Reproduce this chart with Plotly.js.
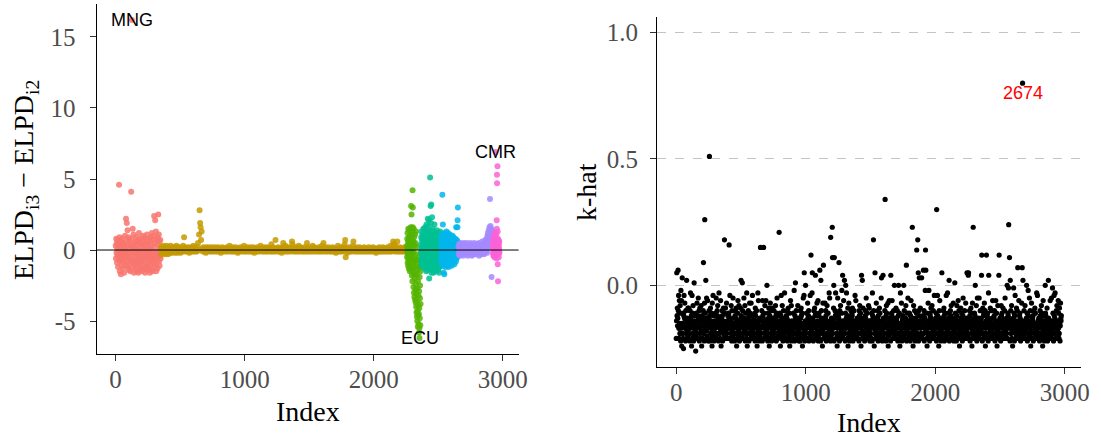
<!DOCTYPE html>
<html><head><meta charset="utf-8">
<script src="https://cdn.plot.ly/plotly-3.0.1.min.js"></script>
<style>html,body{margin:0;padding:0;background:#fff;}#chart{width:1101px;height:438px;}</style>
</head><body><div id="chart"></div>
<script>
// ---------- Left panel: ELPD_i3 - ELPD_i2 (values in tenths), by group ----------
const groupStart = [1, 351, 2258, 2366, 2521, 2657, 2923];
const groupStep  = [2, 4, 1, 1, 1, 2, 1];
const groupColors = ['#F8766D','#C49A00','#53B400','#00C094','#00B6EB','#A58AFF','#FB61D7'];

const redTenths = [
3,-6,8,-2,5,-9,1,-4,7,-12,-1,4,-7,46,-3,9,-15,2,-8,6,-17,-5,3,-11,0,
-6,8,-3,-13,5,-1,-9,4,-16,2,-7,10,-4,0,-11,22,6,-2,19,-8,3,14,-12,-5,9,
-3,-14,7,1,-10,-6,4,-15,-1,8,41,-8,3,162,-4,-12,15,0,-7,11,-2,-16,5,-9,2,
-11,6,-4,-13,9,1,-7,-15,3,-2,-9,7,-5,-16,0,12,-3,-10,5,-14,-6,8,-1,-12,4,
-8,2,-15,6,-4,10,-11,-1,-7,3,-13,9,-5,1,-16,-3,7,-9,-12,5,-2,11,-6,-14,0,
4,-10,-3,8,-13,-7,1,-16,6,-2,-11,9,-5,3,-14,12,-8,-1,-15,7,-4,10,-9,2,24,
-6,-12,5,21,-3,-10,13,-15,8,-1,-7,4,-13,9,-5,25,-2,11,-8,6,-11,1,-4,7,-6];

const goldTenths = [
2,-3,1,-2,3,0,-1,2,-3,1,-2,3,0,-1,-3,2,1,-2,0,3,-1,-2,1,2,-1,
0,2,-2,1,-1,3,0,-2,1,2,-1,0,2,-2,1,0,-1,1,3,-1,9,0,2,-1,1,
0,-1,1,2,0,-2,1,0,-1,2,1,-1,0,3,-1,0,2,-1,1,0,-1,2,5,0,11,
28,19,16,7,13,1,-1,2,0,-1,1,0,-2,2,0,-1,1,0,2,-1,0,1,-1,0,2,
-1,0,1,0,-1,2,0,-1,1,0,-1,2,0,-1,1,0,-2,1,0,2,-1,1,0,-1,0,
1,0,-1,2,0,-1,1,0,3,-1,0,1,-1,0,2,-1,0,1,-1,0,2,-1,0,1,-2,
0,1,-1,0,2,1,-1,0,1,0,-1,3,0,-1,1,0,-1,2,0,-1,1,0,-1,2,0,
-1,1,0,-1,2,0,-2,1,0,1,-1,0,2,-1,0,1,-1,0,3,1,0,-1,1,0,-1,
2,0,-1,1,0,-1,2,0,-1,1,0,1,-1,0,4,-1,0,2,-1,0,1,-1,7,0,1,
-1,0,2,-1,1,0,-1,1,0,-2,2,0,5,-1,1,0,3,-1,0,1,-1,2,0,-1,1,
0,1,-1,2,6,4,0,-1,1,0,-1,2,0,-1,1,0,-1,3,0,-1,2,0,1,-1,0,
1,-1,0,2,-1,0,1,-1,5,0,-1,2,0,-1,1,0,-1,1,0,3,-1,0,2,-1,0,
1,0,-1,1,0,-1,2,0,-1,1,0,-1,3,0,-1,5,1,0,-1,2,0,-1,1,0,-1,
2,0,1,-1,0,-1,1,0,2,-1,0,-1,1,0,-2,1,0,-1,3,0,-1,1,0,-1,2,
0,-1,1,0,2,-1,4,7,-5,1,0,-2,1,0,-1,2,0,-1,1,0,-1,1,3,6,0,
-1,0,1,-1,2,0,-1,0,1,-1,2,0,-1,1,0,-1,1,0,-1,2,0,-1,1,0,-1,
1,0,-1,2,0,-1,1,0,-1,1,0,2,-1,0,-1,1,0,-2,1,0,-1,1,0,2,-1,
0,-1,1,0,-1,2,0,-1,1,0,-1,0,1,-1,2,0,-1,0,1,-1,3,0,-1,1,0,
6,4,0,-1,3,1,-1,0,6,-1,0,1,-1,2,0,-1,1,0,-1,1,0,-1,2,0,-1,
1,0];

const greenTenths = [
3,-5,8,-2,12,-9,1,-4,6,-11,15,-1,
-7,4,-13,9,0,-6,14,-3,-10,7,-15,2,
10,-8,5,-12,-2,16,-5,11,31,-1,-14,25,
-4,8,-18,13,-7,1,-22,42,16,30,-9,4,
-13,6,-26,-2,15,-17,-30,9,-6,-33,-12,3,
-20,-8,11,-35,-16,5,-28,-37,-3,-24,13,-40,
-10,-31,-44,2,-18,-47,-36,-7,-50,-27,-43,-14,
-54,-22,-39,-46,-5,-32,-52,-12,-45,-58,-29,-41,
-55,-62,-19,-48,-34,-25,-8,-53,-15,-38,-2,-11];

const tealTenths = [
4,-7,9,-2,13,-11,1,-5,7,-9,2,-3,
11,-6,0,-12,5,8,-4,15,-8,3,-1,10,
-10,6,-3,14,-7,2,-13,9,-1,16,-5,4,
-9,12,0,-6,7,-15,3,18,-2,-11,8,1,
-4,13,-8,6,-14,22,-1,9,-7,3,17,-12,
5,-3,21,-9,-20,10,-6,2,14,-10,7,51,
-2,12,-13,31,4,-8,19,-5,32,1,-16,8,
-11,6,23,-4,11,-7,0,15,-14,3,-9,10,
-1,-16,5,13,-6,2,-12,8,-3,18,-8,4,
-13,9,-2,6,-10,1,12,-5,-15,7,-1,11,
-7,3,-11,14,0,-4,8,-12,5,-9,2,10,
-6,1,-14,7,-2,12,-8,4,-10,-16,6,-3,
9,-12,2,-5,13,-9,0,7,-4,-11,3];

const blueTenths = [
3,-6,8,-2,10,-8,1,-4,6,-10,2,39,
-3,7,-7,18,0,-5,9,-11,4,-16,-1,12,
-8,5,-17,2,-4,11,-9,6,-1,8,-12,3,
-6,10,-3,1,-10,7,-2,13,-7,4,0,-9,
6,-4,9,-11,2,-6,12,-1,-8,5,-3,8,
-12,1,7,-5,10,-2,-9,4,-7,11,0,-4,
6,-10,3,-1,9,-6,2,-8,5,-3,7,-11,
1,8,-5,3,-7,10,-2,-9,4,-1,6,-6,
2,-4,9,-8,0,5,-3,7,-10,1,-5,4,
-7,6,-2,8,-6,3,-1,5,-8,2,16,-4,
4,-6,1,7,-3,-5,2,6,16,21,-2,30,-4,3,-1,5];

const purpleTenths = [
2,-3,4,-1,1,-4,3,0,-2,5,-1,2,
-3,1,4,-2,0,3,-4,2,-1,5,1,-2,
3,-1,0,4,-3,2,-1,1,5,-2,0,3,
-4,2,1,-1,4,-2,3,0,-3,2,5,-1,
1,-2,3,0,-4,4,-1,2,-3,1,3,-2,
0,5,-1,2,-3,3,1,-2,4,0,-1,2,
-3,3,1,-1,4,-2,0,5,-4,2,1,-1,
3,-2,2,0,-3,4,1,-1,6,-2,3,0,
-1,4,2,-3,5,1,-2,3,7,0,4,-1,
6,2,8,-2,10,4,12,1,9,14,3,11,
16,7,36,13,17,5,10,15,-19,8,14,4,
12];

const pinkTenths = [
3,-2,6,1,-4,8,0,-3,5,2,-1,10,4,
-5,7,1,-2,12,3,-4,0,9,69,2,-3,6,
-1,11,4,-6,21,15,53,47,-2,5,59,13,-10,8,-22,3,
0,-3,7,2,-5,4,1,-1,6,-2];

const elpdGroups = [redTenths, goldTenths, greenTenths, tealTenths, blueTenths, purpleTenths, pinkTenths];
const labelText  = ['MNG', 'CMR', 'ECU'];
const labelIndex = [127, 2945, 2355];
const labelValue = [16.2, 6.9, -6.2];

// ---------- Right panel: k-hat (values in hundredths), every second index ----------
const khatStart = 1, khatStep = 2;
const khatHundredths = [
-21,-14,5,-12,-9,-16,-13,6,-10,-4,-17,-21,-6,-15,-19,-8,-11,-22,-2,-17,-6,-24,-15,3,-19,
-16,-21,-11,-25,-12,-4,-15,-13,-7,-17,-14,-22,-10,-19,-16,2,-21,-13,-18,-15,-9,-20,-17,-9,-14,
-19,-15,-22,-10,-17,-3,-13,-14,-12,-24,-16,-4,-21,-11,-19,-8,-15,-22,-17,1,-14,-20,-12,-18,-16,
-26,-17,-11,-21,-19,-7,-16,-21,-14,-12,-5,-13,-15,-10,-22,-17,-9,-19,-14,-21,-16,-8,-18,-24,-13,
-12,-14,-21,-16,-10,9,-19,-15,-22,-7,26,-17,-11,-13,2,-16,-21,-5,-18,-14,-20,-6,-17,-22,-15,
-15,-13,-10,51,-12,-22,-16,-9,-19,-14,-21,-11,-17,-24,-7,-18,-15,-4,-20,-16,-12,-22,-17,-14,-19,
-17,-11,-21,-16,-5,-19,-21,-15,-10,-12,-8,-13,-14,-22,-16,-3,-19,-17,-13,-21,-15,-6,-18,-24,-14,
-13,-16,-10,-12,-22,-14,-19,-9,-15,-21,-17,18,-11,-20,-16,-9,-21,-18,-15,-7,-19,-14,-21,-17,-12,
-16,-21,-11,-12,16,-15,-13,-4,-17,-21,-14,-19,-8,-16,-22,-10,-18,-15,-20,-5,-17,-13,-21,-16,-19,
-22,-15,-12,-10,-13,-16,-9,-19,-24,-14,-17,-21,-11,-6,-18,-15,-20,-8,-16,-22,-19,-14,-17,-9,-13,
2,-12,-14,-21,-16,1,-10,-19,-21,-15,-17,-5,-13,-14,-18,-8,-22,-16,-11,-19,-15,-21,-3,-17,-24,
-14,-19,-16,-10,-13,-12,-22,-15,-7,-17,-11,-21,-19,-16,-7,-21,-14,-18,-20,-4,-16,-12,-21,-15,-19,
-13,-15,-17,-11,-22,-9,-12,-14,-21,-16,-10,-19,-24,-15,-17,-3,-20,-6,-18,-14,-22,-16,-13,-19,-21,
15,-17,-21,-14,-19,-10,-16,-22,-6,-12,-15,-13,15,-11,-17,-21,-19,-8,-16,-21,-14,-6,-18,-20,-15,
0,-19,-15,-22,-11,-17,-13,-9,-16,-24,-14,-12,-21,-7,-15,-19,-10,-17,-22,-16,-9,-20,-14,-18,-13,
-21,-16,-10,-19,-15,-21,-17,-13,-8,-14,-12,-22,-11,-16,-5,-19,-15,-21,-12,-17,-20,-14,21,-18,-16,
-11,-19,-24,-15,-12,-4,-21,-16,-13,-8,-17,-14,-22,-19,-10,-16,-20,-15,-3,-18,-21,-13,-17,-21,-14,
-12,-15,-13,-10,-22,-16,-19,-9,-14,-21,-17,-11,-18,-24,-15,-20,-6,-16,-19,-8,-22,-14,-18,-15,-17,
-16,-21,-11,-19,-17,-2,-15,-22,-12,-14,1,-13,-16,-10,-19,-21,-17,-21,-15,-8,-18,-13,-20,-16,-22,
-14,-19,-17,-22,-10,-13,-15,-9,-12,-16,-21,-11,-24,-17,-19,-5,-15,-20,-4,5,-16,-22,-18,-14,0,
-19,-15,-21,-11,-17,-21,-16,-7,-13,-14,-12,-10,-22,-16,-19,-15,-21,-4,-17,-13,12,-20,-18,-14,-3,
5,-17,-13,-14,-22,-16,-10,-19,-15,-9,-21,-12,4,-11,-17,-21,-16,-20,-7,-19,-14,-18,-6,-22,-15,
-12,-11,-21,-16,6,-19,-15,-22,2,-17,-10,-13,-14,-18,-24,-16,-7,-19,8,-21,-15,-17,-13,-20,-7,
-13,-16,-10,-12,-22,-14,-19,-8,-15,-21,-17,-11,-21,-16,-19,-3,-20,-5,-18,-14,-22,19,-15,-17,-13,
-16,-21,23,11,-19,-14,-17,-9,0,-22,11,-15,-13,-10,-12,-3,-16,-21,-11,-19,-15,-24,-17,-5,-20,
-12,-14,-13,9,-16,-22,-10,-19,-15,-8,-17,-21,-11,-18,-2,-16,-20,4,-14,-21,-19,-6,-17,-15,2,
-15,-19,-22,-11,0,-17,-13,-3,-16,-14,-21,-12,-9,-24,-15,-19,-7,-13,-17,-22,-16,-20,-14,-18,-10,
-13,-16,-21,-11,-12,-9,-15,-22,-17,-14,-19,-10,-20,-16,-21,-4,-18,-15,-6,-21,-14,-17,-19,-13,-16,
-17,-21,-14,-19,-15,-22,-10,-12,-8,-16,-13,-11,-17,-24,-19,4,-15,-21,2,-14,-18,-9,-16,-20,-13,
-16,-19,-22,-14,-12,-10,-13,-15,-5,-17,-21,-11,-19,-16,-21,-15,-18,-8,-20,-14,-9,-17,-22,-16,-19,
-19,-14,-17,-21,-11,-16,-22,-3,-12,-15,-13,18,-10,-17,-24,-14,-19,5,-16,-21,-13,-18,-7,-15,-20,
-15,-13,-17,-10,-22,-12,-14,-21,-16,-9,-19,-11,-21,-17,-15,-20,-5,3,-18,-14,-22,-16,-19,4,-13,
-17,-21,-14,-19,-16,-10,34,-13,-15,-22,-12,-8,-11,-17,-21,-15,-19,-7,-24,-16,-20,-14,-6,-18,-13,
-19,-16,-22,4,-15,-13,-11,-12,-6,-17,-14,-21,-16,-19,-10,-21,-18,0,-15,-20,-17,-13,-21,-9,-16,
-14,-13,-17,-10,-19,-22,-15,-12,0,-16,-21,-11,-19,-24,-17,-3,-20,-15,-18,-7,-16,-22,-14,-19,-13,
-12,-15,-21,0,-16,-10,-19,-21,-17,-14,-13,-8,-16,8,-22,-15,-18,-11,-19,-5,-17,-21,-14,-20,-16,
-11,-19,-16,-22,-12,-15,-6,-13,-17,-14,-21,23,-19,-13,-24,-16,-8,-18,-15,-20,-10,-17,-22,-14,-19,
-13,-16,-11,14,-21,-17,-19,18,-15,5,-22,-10,-12,3,-16,-14,-20,-9,-17,-21,-19,-15,3,-21,-13,
-16,-21,-12,-14,6,-19,-10,-22,-17,-15,-13,-2,14,6,-16,-18,-11,-21,-24,-15,-17,-19,-7,-14,-20,
-2,-15,-19,-22,-11,-12,-16,-13,-9,-17,-21,-14,-8,-19,-15,-21,-17,-10,-20,-16,-18,-4,-21,-14,-19,
-15,-13,-17,-11,-22,30,-16,-19,-4,-12,-14,-21,-15,-24,-17,-10,-19,-6,-16,-20,-18,-13,-22,-15,-17,
5,-19,-14,-21,-16,-17,-10,-13,-9,-12,-22,-15,-19,-11,-21,-16,-20,-4,-17,-14,-21,-18,-3,-15,-19,
-11,-13,-17,2,-22,-16,-19,-14,-10,-21,-12,-8,-15,-21,-17,-20,-13,-19,-16,-7,-14,-22,-18,-15,-21,
1,-17,-11,-13,-16,-19,-22,-15,-8,-12,-14,-21,-17,-6,-20,-16,-10,-19,-24,-15,-18,-14,-21,-9,-17,
-13,-16,-11,-19,-22,-15,-12,-5,-17,-21,-14,-20,-16,-10,-19,-21,-17,-7,-15,-18,-21,-13,5,-16,-20,
-17,-19,4,5,-14,-21,-16,-10,-12,-22,-15,-13,-9,-17,-11,-19,-24,-16,-7,-21,-18,23,-14,-20,-15,
-16,-11,-21,-12,0,-13,-15,-19,-8,-17,-22,-14,-5,-16,-20,-18,-21,-13,-19,-5,-15,-21,-17,-10,-18,
-19,-14,-13,4,12,-16,-22,-17,-9,-15,-21,-12,-11,-19,-7,-16,-20,-10,-24,-17,-14,-19,12,-15,-21,
-12,-11,-13,-16,-22,-3,4,-17,-19,-14,-21,-15,-9,-18,-21,-16,-10,-20,-17,-13,-19,-6,-15,-21,-17,
-15,-13,-12,-10,-16,-22,-14,-19,-6,-17,-21,-11,-16,-24,-18,-20,-8,-15,-19,-14,4,12,-17,-21,-13,
-16,-19,-22,-15,-8,-12,-13,-11,-17,-21,-14,-9,-19,-16,-21,-20,-15,-10,-18,-5,-17,-21,-14,-19,-13,
-19,-15,0,-21,-17,-11,-12,-1,24,-16,-13,11,-14,-22,2,-17,-10,-19,-15,-8,-21,-16,-18,-24,-14,
-15,-13,-1,-17,-11,-22,-12,-16,-4,-19,-14,-21,-17,-9,-20,-16,-10,-21,7,-18,-15,-19,-6,-21,-14,
-12,-11,-13,-16,-22,-17,-15,-19,-7,-21,7,-14,-18,2,-16,-20,-21,-10,-17,-19,-15,-8,-21,-14,-18,
-16,-13,0,-17,-11,-22,-19,-15,-2,-12,-14,-21,-16,-5,-20,-17,-10,-19,-24,-15,-18,-7,-21,-13,-16,
-13,-14,-12,-22,-16,-10,-19,-15,-21,-9,-17,-11,-20,-16,-21,-18,-3,-15,-19,-4,-21,-14,-17,-20,-13,
-15,-19,-22,-16,-10,-12,-13,-14,-17,-8,-21,-11,-19,-15,-24,-17,-6,-20,-14,-18,-16,-22,-12,-19,0,
-11,-12,-21,-15,-17,-13,-9,-16,-22,-14,-19,2,-13,-18,-20,-15,-21,-17,-6,-21,-16,-14,-19,-5,-18,
-21,-15,-1,-17,-11,-19,-22,-16,-4,-12,-14,-13,-3,-17,-21,-15,-19,-10,-21,-8,-16,-18,-14,-20,-6,
-17,-11,-21,-19,-9,-15,-22,-16,-7,-13,-14,-12];
const flaggedIndex = [2674];
const flaggedKhat  = [0.80];

// ---------- build ----------
function indexSeq(start, step, n) { return Array.from({length: n}, (_, i) => start + step * i); }

const traces = elpdGroups.map((vals, g) => ({
  type: 'scatter', mode: 'markers', xaxis: 'x', yaxis: 'y',
  x: indexSeq(groupStart[g], groupStep[g], vals.length),
  y: vals.map(v => v / 10),
  marker: {color: groupColors[g], size: 6, opacity: 0.85, line: {width: 0}},
  hoverinfo: 'skip', showlegend: false
}));
traces.push({
  type: 'scatter', mode: 'markers', xaxis: 'x2', yaxis: 'y2',
  x: indexSeq(khatStart, khatStep, khatHundredths.length).concat(flaggedIndex),
  y: khatHundredths.map(v => v / 100).concat(flaggedKhat),
  marker: {color: '#000', size: 5.2, line: {width: 0}},
  hoverinfo: 'skip', showlegend: false
});

const serif = 'Liberation Serif, Times New Roman, serif';
const sans = 'Liberation Sans, Arial, sans-serif';
const tickFont = {family: serif, size: 25, color: '#4d4d4d'};
const axisCommon = {showline: true, linecolor: '#000', linewidth: 1, ticks: 'outside', ticklen: 6,
  tickcolor: '#333', tickwidth: 1, tickfont: tickFont, showgrid: false, zeroline: false, fixedrange: true};
const W = 1101, H = 438;
const L = {x0: 96.5, x1: 518.6, y0: 4, y1: 354};
const R = {x0: 657, x1: 1080.7, y0: 16.7, y1: 367};
const xRange = [-147.65, 3122.65];

const annotations = labelText.map((t, i) => ({
  xref: 'x', yref: 'y', x: labelIndex[i], y: labelValue[i], text: t, showarrow: false,
  font: {family: sans, size: 18, color: '#000'}, xanchor: 'center', yanchor: 'middle'
}));
annotations.push({xref: 'x2', yref: 'y2', x: flaggedIndex[0], y: 0.76, text: String(flaggedIndex[0]),
  showarrow: false, font: {family: sans, size: 18, color: '#FF0000'}, xanchor: 'center', yanchor: 'middle'});
annotations.push({xref: 'paper', yref: 'paper', x: 25 / W, y: 1 - 180 / H, textangle: -90,
  text: 'ELPD<sub>i3</sub> − ELPD<sub>i2</sub>', showarrow: false, xanchor: 'center', yanchor: 'middle',
  font: {family: serif, size: 28, color: '#000'}});
annotations.push({xref: 'paper', yref: 'paper', x: 586 / W, y: 1 - 192 / H, textangle: -90,
  text: 'k-hat', showarrow: false, xanchor: 'center', yanchor: 'middle',
  font: {family: serif, size: 28, color: '#000'}});
annotations.push({xref: 'paper', yref: 'paper', x: (L.x0 + L.x1) / 2 / W, y: 1 - 411 / H,
  text: 'Index', showarrow: false, xanchor: 'center', yanchor: 'middle',
  font: {family: serif, size: 28, color: '#000'}});
annotations.push({xref: 'paper', yref: 'paper', x: (R.x0 + R.x1) / 2 / W, y: 1 - 422 / H,
  text: 'Index', showarrow: false, xanchor: 'center', yanchor: 'middle',
  font: {family: serif, size: 28, color: '#000'}});

const layout = {
  width: W, height: H, margin: {l: 0, r: 0, t: 0, b: 0},
  paper_bgcolor: '#fff', plot_bgcolor: 'rgba(0,0,0,0)', showlegend: false,
  xaxis: Object.assign({}, axisCommon, {domain: [L.x0 / W, L.x1 / W], anchor: 'y', range: xRange,
    tickvals: [0, 1000, 2000, 3000], ticklabelstandoff: -3}),
  yaxis: Object.assign({}, axisCommon, {domain: [1 - L.y1 / H, 1 - L.y0 / H], anchor: 'x', range: [-7.32, 17.32],
    tickvals: [-5, 0, 5, 10, 15], ticktext: ['-5', '0', '5', '10', '15'], ticklabelstandoff: 9}),
  xaxis2: Object.assign({}, axisCommon, {domain: [R.x0 / W, R.x1 / W], anchor: 'y2', range: xRange,
    tickvals: [0, 1000, 2000, 3000], ticklabelstandoff: -3}),
  yaxis2: Object.assign({}, axisCommon, {domain: [1 - R.y1 / H, 1 - R.y0 / H], anchor: 'x2', range: [-0.323, 1.063],
    tickvals: [0, 0.5, 1], ticktext: ['0.0', '0.5', '1.0'], ticklabelstandoff: 7,
    showgrid: true, gridcolor: '#c4c4c4', gridwidth: 1, griddash: 'dash'}),
  shapes: [{type: 'line', xref: 'x domain', yref: 'y', x0: 0, x1: 1, y0: 0, y1: 0,
    line: {color: '#000', width: 1}, layer: 'above'}],
  annotations: annotations
};

Plotly.newPlot('chart', traces, layout, {displayModeBar: false, staticPlot: true});
</script></body></html>
